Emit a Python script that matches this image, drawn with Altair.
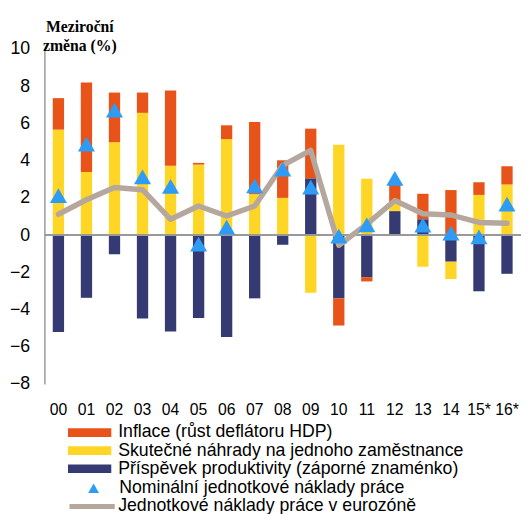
import altair as alt
import pandas as pd

years = ["00", "01", "02", "03", "04", "05", "06", "07", "08", "09",
         "10", "11", "12", "13", "14", "15*", "16*"]

s_inf = "Inflace (růst deflátoru HDP)"
s_comp = "Skutečné náhrady na jednoho zaměstnance"
s_prod = "Příspěvek produktivity (záporné znaménko)"
s_nulc = "Nominální jednotkové náklady práce"
s_euro = "Jednotkové náklady práce v eurozóně"

inflation = [1.69, 4.81, 2.67, 1.09, 4.05, 0.09, 0.74, 3.88, 2.02, 2.67,
             -1.46, -0.23, 0.96, 1.37, 2.42, 0.68, 0.98]
compensation = [5.67, 3.39, 4.99, 6.57, 3.72, 3.79, 5.16, 2.2, 2.0, -3.1,
                4.85, 3.03, 0.45, -1.7, -0.93, 2.16, 2.72]
productivity = [-5.21, -3.37, -1.03, -4.48, -5.18, -4.46, -5.48, -3.4, -0.52, 3.05,
                -3.4, -2.26, 1.29, 0.85, -1.43, -3.02, -2.08]
nominal_ulc = [2.12, 4.89, 6.72, 3.13, 2.62, -0.49, 0.43, 2.65, 3.54, 2.58,
               -0.06, 0.55, 3.05, 0.53, 0.1, -0.1, 1.66]
euro_ulc = [1.12, 1.9, 2.56, 2.44, 0.85, 1.56, 1.03, 1.56, 3.75, 4.55,
            -0.55, 0.59, 1.86, 1.15, 1.08, 0.68, 0.64]

colors_bar = ["#E8531A", "#FFD625", "#353A72"]
c_tri = "#2E9BF5"
c_line = "#B5A79E"

rows = []
for i, y in enumerate(years):
    rows.append({"year": y, "series": s_prod, "ord": 0, "value": productivity[i]})
    rows.append({"year": y, "series": s_comp, "ord": 1, "value": compensation[i]})
    rows.append({"year": y, "series": s_inf, "ord": 2, "value": inflation[i]})
bars_df = pd.DataFrame(rows)
tri_df = pd.DataFrame({"year": years, "value": nominal_ulc, "s": [s_nulc] * len(years)})
line_df = pd.DataFrame({"year": years, "value": euro_ulc, "s": [s_euro] * len(years)})
zero_df = pd.DataFrame({"value": [0]})

y_axis = alt.Axis(
    values=[-8, -6, -4, -2, 0, 2, 4, 6, 8, 10],
    grid=False, ticks=False, tickSize=0,
    labelFont="Liberation Sans", labelFontSize=18, labelColor="black", labelPadding=15,
    domainColor="#999999", domainWidth=1.5,
    title=["Meziroční", "změna (%)"], titleAngle=0, titleX=35.5, titleY=-18.3,
    titleAlign="center", titleBaseline="alphabetic",
    titleFont="Liberation Serif", titleFontSize=16, titleFontWeight="bold",
    titleLineHeight=20, titleColor="black",
)
y_scale = alt.Scale(domain=[-8, 10], nice=False, zero=False)
x_enc = alt.X(
    "year:N", sort=years,
    scale=alt.Scale(paddingInner=0, paddingOuter=0),
    axis=alt.Axis(title=None, domain=False, ticks=False, labelAngle=0,
                  labelFont="Liberation Sans", labelFontSize=16, labelColor="black",
                  labelPadding=18),
)

legend_common = dict(title=None, orient="none", direction="vertical",
                     labelFont="Liberation Sans", labelFontSize=18, labelColor="black",
                     labelLimit=600)

bars = alt.Chart(bars_df).mark_bar(size=11.5).encode(
    x=x_enc,
    y=alt.Y("value:Q", scale=y_scale, axis=y_axis, stack="zero"),
    color=alt.Color("series:N", scale=alt.Scale(domain=[s_inf, s_comp, s_prod], range=colors_bar),
                    legend=alt.Legend(legendX=37, legendY=380.9,
                                      symbolType="M-2.75,-0.55H2.75V0.55H-2.75Z",
                                      symbolSize=256, symbolStrokeWidth=0, symbolOpacity=1,
                                      labelOffset=20, rowPadding=0.4, **legend_common)),
    order=alt.Order("ord:Q"),
)

zero = alt.Chart(zero_df).mark_rule(color="#999999", strokeWidth=2).encode(
    y=alt.Y("value:Q", scale=y_scale, axis=y_axis)
)

line = alt.Chart(line_df).mark_line(strokeWidth=5.5, strokeCap="round", strokeJoin="round").encode(
    x=x_enc,
    y=alt.Y("value:Q", scale=y_scale, axis=y_axis),
    color=alt.Color("s:N", scale=alt.Scale(domain=[s_euro], range=[c_line]),
                    legend=alt.Legend(legendX=38, legendY=454.5,
                                      symbolType="M-2.875,0H2.875", symbolSize=256,
                                      symbolStrokeWidth=5, labelOffset=16, **legend_common)),
)

tri = alt.Chart(tri_df).mark_point(shape="triangle-up", filled=True, size=300, opacity=1).encode(
    x=x_enc,
    y=alt.Y("value:Q", scale=y_scale, axis=y_axis),
    color=alt.Color("s:N", scale=alt.Scale(domain=[s_nulc], range=[c_tri]),
                    legend=alt.Legend(legendX=41, legendY=437.5,
                                      symbolType="triangle-up", symbolSize=121,
                                      symbolOpacity=1, labelOffset=17, **legend_common)),
)

chart = alt.layer(bars, zero, line, tri).resolve_scale(color="independent").properties(
    width=484.5, height=340.5,
    autosize=alt.AutoSizeParams(type="none"),
    padding={"left": 37, "top": 37.5, "right": 0, "bottom": 128},
).configure_view(stroke=None)

chart.save("out.html", embed_options={"renderer": "svg", "actions": False})
